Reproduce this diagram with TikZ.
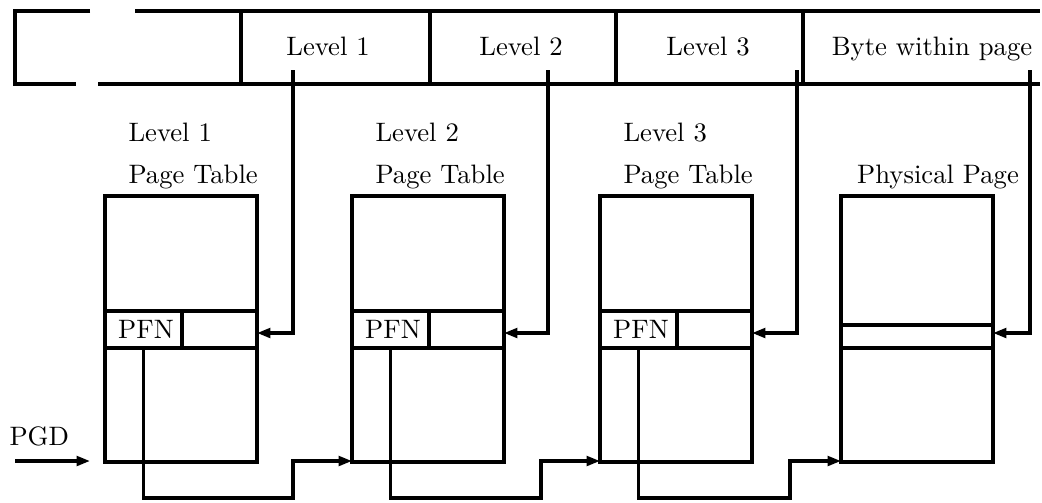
\documentclass[tikz,border=0pt]{standalone}
\usetikzlibrary{arrows.meta}
\begin{document}
\begin{tikzpicture}[x=0.375pt,y=-0.375pt,line width=1.15pt,
  ptr/.style={-{Triangle[length=5pt,width=3.6pt]}},
  txt/.style={inner sep=0pt,anchor=base,font=\normalsize},
  txtl/.style={inner sep=0pt,anchor=base west}]
\useasboundingbox (0,0) rectangle (1042,502);

% virtual address word, broken on the left
\draw (90,11) -- (15,11) -- (15,84) -- (76,84);
\draw (135,11) -- (1040,11);
\draw (98,84) -- (1040,84);
\foreach \x in {241,430,616,803} \draw (\x,11) -- (\x,84);
\node[txt] (f1) at (328,55) {Level 1};
\node[txt] (f2) at (521,55) {Level 2};
\node[txt] (f3) at (708,55) {Level 3};
\node[txt] (f4) at (932,55) {Byte within page};

% page tables: left edge, name
\foreach \l/\n in {105/1,352/2,600/3}{
  \draw (\l,196) rectangle ++(152,266);
  \draw (\l,311) -- ++(152,0);
  \draw (\l,348) -- ++(152,0);
  \draw (\l+77,311) -- (\l+77,348);
  \node[txt] (pfn\n) at (\l+41,338) {PFN};
  \node[txtl] (t\n a) at (\l+22,141) {Level \n};
  \node[txtl] (t\n b) at (\l+22,183) {Page Table};
  \coordinate (in\n) at (\l+152,333);
  \coordinate (base\n) at (\l,461);
  \coordinate (out\n) at (\l+38.5,348);
}
% physical page
\draw (841,196) rectangle ++(152,266);
\draw (841,325) -- ++(152,0);
\draw (841,348) -- ++(152,0);
\node[txt] (pp) at (938,183) {Physical Page};
\coordinate (in4) at (993,333);
\coordinate (base4) at (841,461);

% taps from the address fields
\coordinate (s1) at (293,70);
\coordinate (s2) at (548,70);
\coordinate (s3) at (797,70);
\coordinate (s4) at (1030,70);
\foreach \n in {1,2,3,4}
  \draw[ptr] (s\n) |- (in\n);

% PFN links to the next table
\foreach \a/\b/\xr in {1/2/293,2/3/541,3/4/790}
  \draw[ptr] (out\a) -- (out\a |- 0,498) -- (\xr,498) -- (\xr,461) -- (base\b);

% PGD
\node[txtl] (pgd) at (8,445) {PGD};
\coordinate (g0) at (15,461);
\coordinate (g1) at (90,461);
\draw[ptr] (g0) -- (g1);
\end{tikzpicture}
\end{document}
